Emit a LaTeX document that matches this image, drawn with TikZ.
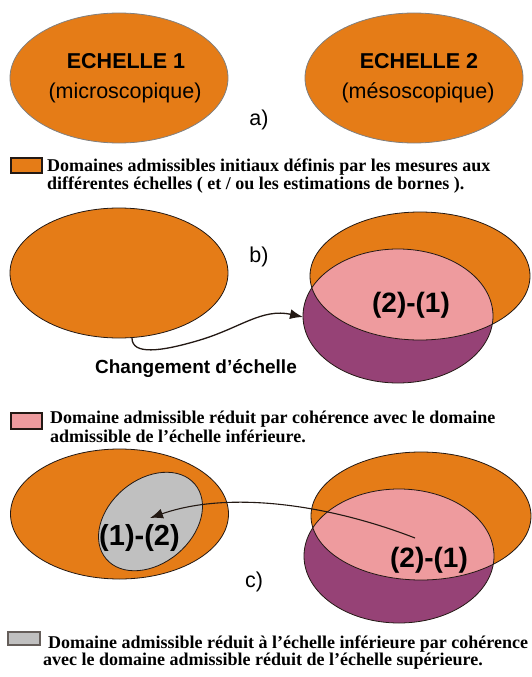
\documentclass[tikz,border=0pt]{standalone}
\usepackage{fontspec}
\setmainfont{Liberation Serif}
\newfontfamily\arial{Liberation Sans}
\usetikzlibrary{arrows.meta}
\definecolor{dorange}{RGB}{229,124,23}
\definecolor{dpink}{RGB}{238,155,158}
\definecolor{dpurple}{RGB}{150,66,118}
\definecolor{dgray}{RGB}{192,192,192}
\definecolor{dline}{RGB}{35,25,20}
\tikzset{
  ella/.style={fill=dorange, draw=gray, line width=0.8pt},
  ellb/.style={fill=dorange, draw=dline, line width=0.8pt},
  outl/.style={draw=dline, line width=0.8pt},
  legbox/.style={draw=dline, line width=1.1pt},
  legtxt/.style={anchor=base west, inner sep=0pt, font=\fontsize{18}{20}\selectfont\bfseries},
  scaletxt/.style={inner sep=0pt, font=\arial\fontsize{21.5}{24}\selectfont},
  bigtxt/.style={inner sep=0pt, font=\arial\fontsize{28}{30}\selectfont\bfseries},
  conn/.style={draw=dline, line width=1.3pt, -{Latex[length=13pt,width=10pt]}},
}
\begin{document}
\begin{tikzpicture}[x=1pt,y=-1pt]
\useasboundingbox (0,0) rectangle (531,677);
% ---------- a)
\filldraw[ella] (119,78) ellipse [x radius=109, y radius=65];
\filldraw[ella] (414,78) ellipse [x radius=109, y radius=65];
\node[scaletxt, anchor=base, font=\arial\fontsize{21.5}{24}\selectfont\bfseries] (e1) at (126,68) {ECHELLE 1};
\node[scaletxt, anchor=base] (m1) at (125,98) {(microscopique)};
\node[scaletxt, anchor=base, font=\arial\fontsize{21.5}{24}\selectfont\bfseries] (e2) at (419,68) {ECHELLE 2};
\node[scaletxt, anchor=base] (m2) at (418,98) {(mésoscopique)};
\node[scaletxt, anchor=base] (la) at (259,125) {a)};
% legend 1
\filldraw[legbox, fill=dorange] (11,158) rectangle (42,173);
\node[legtxt] (l1a) at (47,171) {Domaines admissibles initiaux définis par les mesures aux};
\node[legtxt] (l1b) at (47,189) {différentes échelles ( et / ou les estimations de bornes ).};
% ---------- b)
\filldraw[ellb] (119,273) ellipse [x radius=109, y radius=65];
\fill[dorange] (420,276) ellipse [x radius=110, y radius=64];
\fill[dpurple] (398,316) ellipse [x radius=95, y radius=67];
\begin{scope}
  \clip (398,316) ellipse [x radius=95, y radius=67];
  \fill[dpink] (420,276) ellipse [x radius=110, y radius=64];
\end{scope}
\draw[outl] (420,276) ellipse [x radius=110, y radius=64];
\draw[outl] (398,316) ellipse [x radius=95, y radius=67];
\node[scaletxt, anchor=base] (lb) at (259,262) {b)};
\node[bigtxt] (t21b) at (411,305) {(2)-(1)};
\coordinate (bs) at (132,338);
\coordinate (bm) at (200,340);
\coordinate (be) at (303,317);
\draw[conn] (bs) .. controls (132,355) and (160,352) .. (bm) .. controls (240,328) and (262,308) .. (be);
\node[anchor=base, inner sep=0pt, font=\arial\fontsize{19}{21}\selectfont\bfseries] (chg) at (196,373) {Changement d’échelle};
% legend 2
\filldraw[legbox, fill=dpink] (11,413) rectangle (42,429);
\node[legtxt] (l2a) at (50,423) {Domaine admissible réduit par cohérence avec le domaine};
\node[legtxt] (l2b) at (50,442) {admissible de l’échelle inférieure.};
% ---------- c)
\filldraw[ellb] (119.5,514) ellipse [x radius=109, y radius=65];
\filldraw[ellb, fill=dgray, rotate around={40:(150.5,521.5)}] (150.5,521.5) ellipse [x radius=58, y radius=42];
\fill[dorange] (421,516) ellipse [x radius=110, y radius=64];
\fill[dpurple] (399,556) ellipse [x radius=95, y radius=67];
\begin{scope}
  \clip (399,556) ellipse [x radius=95, y radius=67];
  \fill[dpink] (421,516) ellipse [x radius=110, y radius=64];
\end{scope}
\draw[outl] (421,516) ellipse [x radius=110, y radius=64];
\draw[outl] (399,556) ellipse [x radius=95, y radius=67];
\node[bigtxt, font=\arial\fontsize{29}{31}\selectfont\bfseries] (t12) at (139.5,537.5) {(1)-(2)};
\node[bigtxt] (t21c) at (429,560) {(2)-(1)};
\coordinate (cs) at (415,538);
\coordinate (ce) at (150,518);
\draw[conn, line width=1.1pt] (cs) .. controls (330,505) and (230,490) .. (ce);
\node[scaletxt, anchor=base] (lc) at (254,587) {c)};
% legend 3
\filldraw[legbox, draw=dline!70, fill=dgray] (8,632) rectangle (40,645);
\node[legtxt] (l3a) at (48,648) {Domaine admissible réduit à l’échelle inférieure par cohérence};
\node[legtxt] (l3b) at (43,665) {avec le domaine admissible réduit de l’échelle supérieure.};
\end{tikzpicture}
\end{document}
